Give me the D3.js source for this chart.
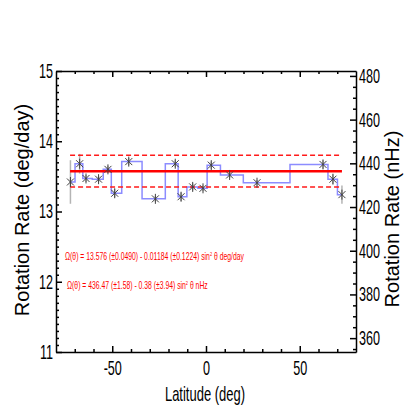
<!DOCTYPE html>
<html>
<head>
<meta charset="utf-8">
<script src="https://cdn.jsdelivr.net/npm/d3@7"></script>
<style>
  body { margin: 0; background: #fff; }
  svg { display: block; font-family: "Liberation Sans", Arial, sans-serif; }
</style>
</head>
<body>
<div id="chart"></div>
<script>
// ---------------------------------------------------------------------------
// DATA
// ---------------------------------------------------------------------------
const latitudes = [-72.3, -67.4, -64.0, -57.3, -52.3, -48.7, -41.2, -27.0, -16.4,
                   -13.3, -7.1, -1.6, 2.8, 12.6, 27.2, 62.4, 67.7, 72.5];
const rates     = [13.42, 13.68, 13.47, 13.46, 13.60, 13.26, 13.71, 13.18, 13.68,
                   13.21, 13.35, 13.33, 13.66, 13.52, 13.41, 13.67, 13.46, 13.24];
const rateErr   = [0.31, 0.14, 0.05, 0.04, 0.05, 0.06, 0.05, 0.04, 0.05,
                   0.06, 0.05, 0.04, 0.05, 0.04, 0.04, 0.06, 0.08, 0.13];

// fit line and its +/- band
const fitLat   = [-72.5, 72.5];
const fitRate  = [13.572, 13.572];
const bandHigh = [13.80, 13.80];
const bandLow  = [13.35, 13.35];

const xMajor = [-50, 0, 50];
const leftMajor = [11, 12, 13, 14, 15];
const rightMajor = [360, 380, 400, 420, 440, 460, 480];

const fitText1 = ["\u03A9(\u03B8) = 13.576 (\u00B10.0490) - 0.01184 (\u00B10.1224) sin", "2", " \u03B8 deg/day"];
const fitText2 = ["\u03A9(\u03B8) = 436.47 (\u00B11.58) - 0.38 (\u00B13.94) sin", "2", " \u03B8 nHz"];

// deg/day -> nHz
const K = 1e9 / (86400 * 360);

// ---------------------------------------------------------------------------
// SETUP
// ---------------------------------------------------------------------------
const margin = { top: 71, right: 58, bottom: 62, left: 56 };
const width = 414 - margin.left - margin.right;
const height = 414 - margin.top - margin.bottom;

const root = d3.select('#chart').append('svg')
    .attr('width', 414)
    .attr('height', 414);

const svg = root.append('g')
    .attr('transform', `translate(${margin.left},${margin.top})`);

const x = d3.scaleLinear().domain([-80, 80]).range([0, width]);
const y = d3.scaleLinear().domain([11, 15]).range([height, 0]);
const yR = d3.scaleLinear().domain([11 * K, 15 * K]).range([height, 0]);

const squeeze = 0.63;
const plain = d => String(d);   // keep the ascii hyphen for negatives

// ---------------------------------------------------------------------------
// AXES (ticks point inward, like the IDL frame)
// ---------------------------------------------------------------------------
const xMinor = d3.range(-70, 80, 10).filter(v => !xMajor.includes(v));
const leftMinor = d3.range(110, 151).map(v => v / 10).filter(v => !leftMajor.includes(v));
const rightMinor = d3.range(355, 485, 5).filter(v => !rightMajor.includes(v));

function styleAxis(g) {
    g.select('.domain').attr('stroke', '#000').attr('stroke-width', 1.5);
    g.selectAll('.tick line').attr('stroke', '#000').attr('stroke-width', 1.5);
    g.selectAll('text').attr('fill', '#000').style('font-size', '20px');
}

// bottom
svg.append('g')
    .attr('transform', `translate(0,${height})`)
    .call(d3.axisBottom(x).tickValues(xMajor).tickSizeInner(-6).tickSizeOuter(0).tickPadding(9)
        .tickFormat(plain))
    .call(styleAxis)
    .selectAll('text')
    .attr('transform', `scale(${squeeze},1)`);

svg.append('g')
    .attr('transform', `translate(0,${height})`)
    .call(d3.axisBottom(x).tickValues(xMinor).tickSize(-3).tickFormat(''))
    .call(styleAxis)
    .select('.domain').remove();

// top
svg.append('g')
    .call(d3.axisTop(x).tickValues(xMajor).tickSizeInner(-6).tickSizeOuter(0).tickFormat(''))
    .call(styleAxis);
svg.append('g')
    .call(d3.axisTop(x).tickValues(xMinor).tickSize(-3).tickFormat(''))
    .call(styleAxis)
    .select('.domain').remove();

// left
svg.append('g')
    .call(d3.axisLeft(y).tickValues(leftMajor).tickSizeInner(-6).tickSizeOuter(0).tickPadding(3)
        .tickFormat(plain))
    .call(styleAxis)
    .selectAll('text')
    .attr('x', -3 / squeeze)
    .attr('transform', `scale(${squeeze},1)`);
svg.append('g')
    .call(d3.axisLeft(y).tickValues(leftMinor).tickSize(-3).tickFormat(''))
    .call(styleAxis)
    .select('.domain').remove();

// right
svg.append('g')
    .attr('transform', `translate(${width},0)`)
    .call(d3.axisRight(yR).tickValues(rightMajor).tickSizeInner(-6).tickSizeOuter(0).tickPadding(3)
        .tickFormat(plain))
    .call(styleAxis)
    .selectAll('text')
    .attr('x', 3 / squeeze)
    .attr('transform', `scale(${squeeze},1)`);
svg.append('g')
    .attr('transform', `translate(${width},0)`)
    .call(d3.axisRight(yR).tickValues(rightMinor).tickSize(-3).tickFormat(''))
    .call(styleAxis)
    .select('.domain').remove();

// ---------------------------------------------------------------------------
// MARKS
// ---------------------------------------------------------------------------
const points = latitudes.map((lat, i) => ({ lat: lat, rate: rates[i], err: rateErr[i] }));

// error bars
svg.append('g')
    .selectAll('line')
    .data(points)
    .join('line')
    .attr('x1', d => x(d.lat))
    .attr('x2', d => x(d.lat))
    .attr('y1', d => y(d.rate - d.err))
    .attr('y2', d => y(d.rate + d.err))
    .attr('stroke', '#b4b4b4')
    .attr('stroke-width', 1.5);

// histogram-style step line
const step = d3.line()
    .x(d => x(d.lat))
    .y(d => y(d.rate))
    .curve(d3.curveStep);

svg.append('path')
    .datum(points)
    .attr('fill', 'none')
    .attr('stroke', '#8c8cff')
    .attr('stroke-width', 1.5)
    .attr('d', step);

// fit and band
const flat = d3.line().x(d => x(d[0])).y(d => y(d[1]));

svg.append('path')
    .datum(fitLat.map((l, i) => [l, bandHigh[i]]))
    .attr('fill', 'none')
    .attr('stroke', '#ff1a1a')
    .attr('stroke-width', 1.5)
    .attr('stroke-dasharray', '5,3')
    .attr('d', flat);

svg.append('path')
    .datum(fitLat.map((l, i) => [l, bandLow[i]]))
    .attr('fill', 'none')
    .attr('stroke', '#ff1a1a')
    .attr('stroke-width', 1.5)
    .attr('stroke-dasharray', '5,3')
    .attr('d', flat);

svg.append('path')
    .datum(fitLat.map((l, i) => [l, fitRate[i]]))
    .attr('fill', 'none')
    .attr('stroke', '#ff0000')
    .attr('stroke-width', 2.5)
    .attr('d', flat);

// asterisk symbols
svg.append('g')
    .selectAll('path')
    .data(points)
    .join('path')
    .attr('transform', d => `translate(${x(d.lat)},${y(d.rate)})`)
    .attr('d', 'M0,-5V5M-3.5,-3.5L3.5,3.5M-3.5,3.5L3.5,-3.5')
    .attr('fill', 'none')
    .attr('stroke', '#404040')
    .attr('stroke-width', 1);

// ---------------------------------------------------------------------------
// LABELS
// ---------------------------------------------------------------------------
root.append('text')
    .attr('transform', `translate(205,401) scale(${squeeze + 0.02},1)`)
    .attr('text-anchor', 'middle')
    .style('font-size', '20px')
    .text('Latitude (deg)');

root.append('text')
    .attr('transform', 'translate(29,210) rotate(-90)')
    .attr('text-anchor', 'middle')
    .style('font-size', '20px')
    .text('Rotation Rate (deg/day)');

root.append('text')
    .attr('transform', 'translate(399,219) rotate(-90)')
    .attr('text-anchor', 'middle')
    .style('font-size', '20px')
    .text('Rotation Rate (nHz)');

function fitLabel(parts, px, py) {
    const t = root.append('text')
        .attr('transform', `translate(${px},${py}) scale(0.65,1)`)
        .attr('fill', '#ff0000')
        .style('font-size', '10.5px');
    t.append('tspan').text(parts[0]);
    t.append('tspan').attr('dy', -4).style('font-size', '6px').text(parts[1]);
    t.append('tspan').attr('dy', 4).text(parts[2]);
}

fitLabel(fitText1, 65, 260);
fitLabel(fitText2, 67, 289);
</script>
</body>
</html>
